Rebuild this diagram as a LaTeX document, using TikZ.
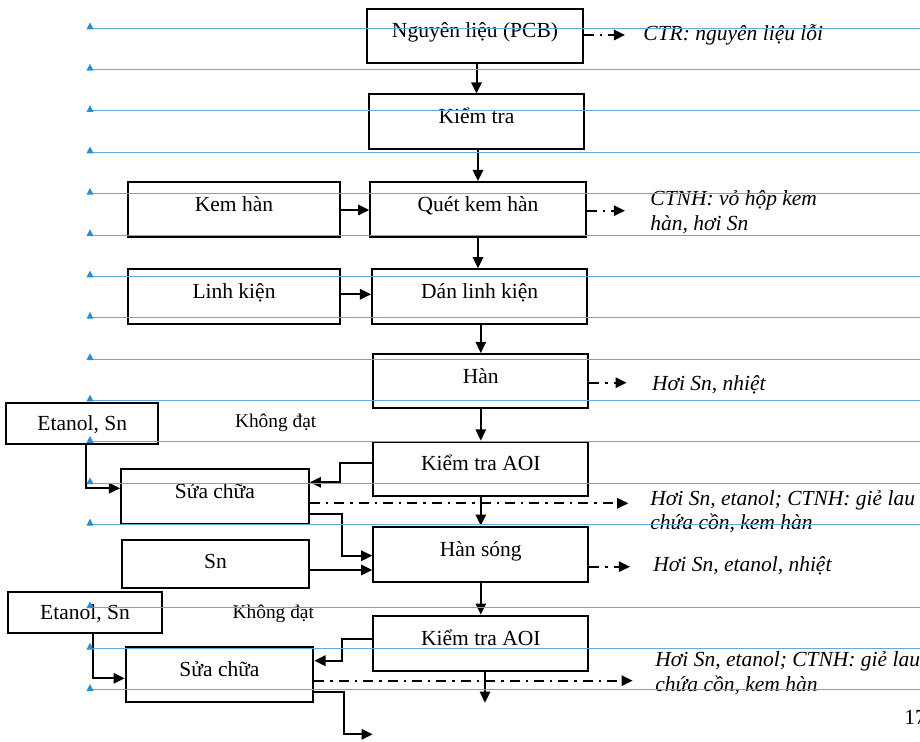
\documentclass[tikz,border=0pt]{standalone}
\usepackage{fontspec}
\setmainfont{Liberation Serif}
\usetikzlibrary{arrows.meta}
\definecolor{ruleblue}{RGB}{100,170,222}
\definecolor{markblue}{RGB}{40,140,215}
\begin{document}
\begin{tikzpicture}[x=0.5pt,y=-0.5pt,
  every node/.style={font=\fontsize{10.75}{12.3}\selectfont},
  procbox/.style={draw=black, line width=1pt, inner sep=0pt, text height=7.5pt, text depth=5.5pt},
  inbox/.style={procbox, text depth=0.5pt},
  snbox/.style={procbox, text depth=2.5pt},
  note/.style={anchor=west, inner ysep=0pt, align=left, font=\fontsize{10.75}{12.3}\selectfont\itshape},
  fail/.style={inner sep=0pt, font=\fontsize{9.7}{11}\selectfont},
  arr/.style={line width=1pt, -{Triangle[length=5.6pt,width=5.2pt]}},
  dd/.style={arr, dash pattern=on 5pt off 3pt on 1.2pt off 3pt},
  ruling/.style={ruleblue, line width=0.5pt}
]
\useasboundingbox (0,0) rectangle (920,742);
\clip (0,0) rectangle (920,742);

% main process column
\node[procbox, minimum width=108pt,   minimum height=27pt]    (nl)   at (475,36)    {Nguyên liệu (PCB)};
\node[procbox, minimum width=107.5pt, minimum height=27.5pt]  (kt)   at (476.5,122) {Kiểm tra};
\node[procbox, minimum width=107.7pt, minimum height=27.5pt]  (quet) at (478,209.5) {Quét kem hàn};
\node[procbox, minimum width=107.65pt,minimum height=27.35pt] (dan)  at (479.7,296.7) {Dán linh kiện};
\node[procbox, minimum width=107.5pt, minimum height=27.15pt] (han)  at (480.8,381.2) {Hàn};
\node[procbox, minimum width=107.5pt, minimum height=27.25pt] (aoi1) at (480.8,468.8) {Kiểm tra AOI};
\node[procbox, minimum width=107.5pt, minimum height=27.5pt]  (hs)   at (480.8,554.2) {Hàn sóng};
\node[procbox, minimum width=107.5pt, minimum height=27.5pt]  (aoi2) at (480.8,643.2) {Kiểm tra AOI};

% inputs and repair steps
\node[procbox, minimum width=106.3pt, minimum height=27.5pt]  (kem)  at (234,209.5)  {Kem hàn};
\node[procbox, minimum width=106.3pt, minimum height=27.35pt] (linh) at (234,296.7)  {Linh kiện};
\node[inbox,   minimum width=75.85pt, minimum height=20.65pt] (et1)  at (82.2,423.3) {Etanol, Sn};
\node[procbox, minimum width=93.85pt, minimum height=27.35pt] (sc1)  at (214.9,496.7) {Sửa chữa};
\node[snbox,   minimum width=93.8pt,  minimum height=23.85pt] (sn)   at (215.5,563.8) {Sn};
\node[inbox,   minimum width=77.3pt,  minimum height=20.65pt] (et2)  at (85,612.7)   {Etanol, Sn};
\node[procbox, minimum width=93.8pt,  minimum height=27.5pt]  (sc2)  at (219.5,674.2) {Sửa chữa};

\node[fail] (k1) at (275.7,422.7) {Không đạt};
\node[fail] (k2) at (273.3,614)   {Không đạt};

% emissions and wastes
\node[note, inner xsep=9pt]     (o1) at (625,35)      {CTR: nguyên liệu lỗi};
\node[note, inner xsep=12.5pt]  (o2) at (625,212)     {CTNH: vỏ hộp kem\\hàn, hơi Sn};
\node[note, inner xsep=12.5pt]  (o3) at (626.7,385)   {Hơi Sn, nhiệt};
\node[note, inner xsep=10.85pt] (o4) at (628.3,511.7) {Hơi Sn, etanol; CTNH: giẻ lau\\chứa cồn, kem hàn};
\node[note, inner xsep=11.5pt]  (o5) at (630,566)     {Hơi Sn, etanol, nhiệt};
\node[note, inner xsep=11.15pt] (o6) at (632.7,673.3) {Hơi Sn, etanol; CTNH: giẻ lau\\chứa cồn, kem hàn};

\node[anchor=base west, inner sep=0pt] (pg) at (904,724) {17};

% main flow
\draw[arr] (kt.north |- nl.south) -- (kt.north);
\draw[arr] (quet.north |- kt.south) -- (quet.north);
\draw[arr] (quet.south) -- (quet.south |- dan.north);
\draw[arr] (han.north |- dan.south) -- (han.north);
\draw[arr] (han.south) -- (aoi1.north);
\draw[arr] (aoi1.south) -- (hs.north);
\draw[arr] (hs.south) -- (aoi2.north);
\coordinate (endA) at (485,702.7);
\draw[arr] (aoi2.south -| endA) -- (endA);

% inputs
\coordinate (kr) at ([yshift=-0.25pt]kem.east);
\draw[arr] (kr) -- (kr -| quet.west);
\coordinate (lr) at ([yshift=1.2pt]linh.east);
\draw[arr] (lr) -- (lr -| dan.west);
\coordinate (snr) at ([yshift=-3.1pt]sn.east);
\draw[arr] (snr) -- (snr -| hs.west);

% first repair loop
\coordinate (e1) at ([xshift=2pt]et1.south);
\draw[arr] (e1) |- ([yshift=4.2pt]sc1.west);
\coordinate (a1w) at ([yshift=2.75pt]aoi1.west);
\draw[arr] (a1w) -- ++(-32.5,0) |- ([yshift=7.2pt]sc1.east);
\coordinate (s1r) at ([yshift=-8.65pt]sc1.east);
\draw[arr] (s1r) -- ++(32.3,0) |- ([yshift=-0.75pt]hs.west);

% second repair loop
\coordinate (e2) at ([xshift=3.85pt]et2.south);
\draw[arr] (e2) |- ([yshift=-2.05pt]sc2.west);
\coordinate (a2w) at ([yshift=1.95pt]aoi2.west);
\draw[arr] (a2w) -- ++(-30.6,0) |- ([yshift=6.75pt]sc2.east);
\coordinate (s2r) at ([yshift=-8.75pt]sc2.east);
\coordinate (endB) at (372.7,734.3);
\draw[arr] (s2r) -- ++(30,0) |- (endB);

% waste streams
\coordinate (w1) at ([yshift=0.5pt]nl.east);
\draw[dd] (w1) -- (w1 -| o1.west);
\coordinate (w2) at ([yshift=-0.6pt]quet.east);
\draw[dd] (w2) -- (w2 -| o2.west);
\coordinate (w3) at ([yshift=-0.75pt]han.east);
\draw[dd] (w3) -- (w3 -| o3.west);
\coordinate (w4) at ([yshift=-3.3pt]sc1.east);
\draw[dd] (w4) -- (w4 -| o4.west);
\coordinate (w5) at ([yshift=-6.25pt]hs.east);
\draw[dd] (w5) -- (w5 -| o5.west);
\coordinate (w6) at ([yshift=-3.25pt]sc2.east);
\draw[dd] (w6) -- (w6 -| o6.west);

% ruled guide lines with their markers
\foreach \k in {0,...,12,14,15,16} {
  \draw[ruling] (88,{28.3+41.35*\k}) -- (920,{28.3+41.35*\k});
  \fill[markblue] (86.5,{29.3+41.35*\k}) -- (93.5,{29.3+41.35*\k}) -- (90,{22.5+41.35*\k}) -- cycle;
}
\end{tikzpicture}
\end{document}
